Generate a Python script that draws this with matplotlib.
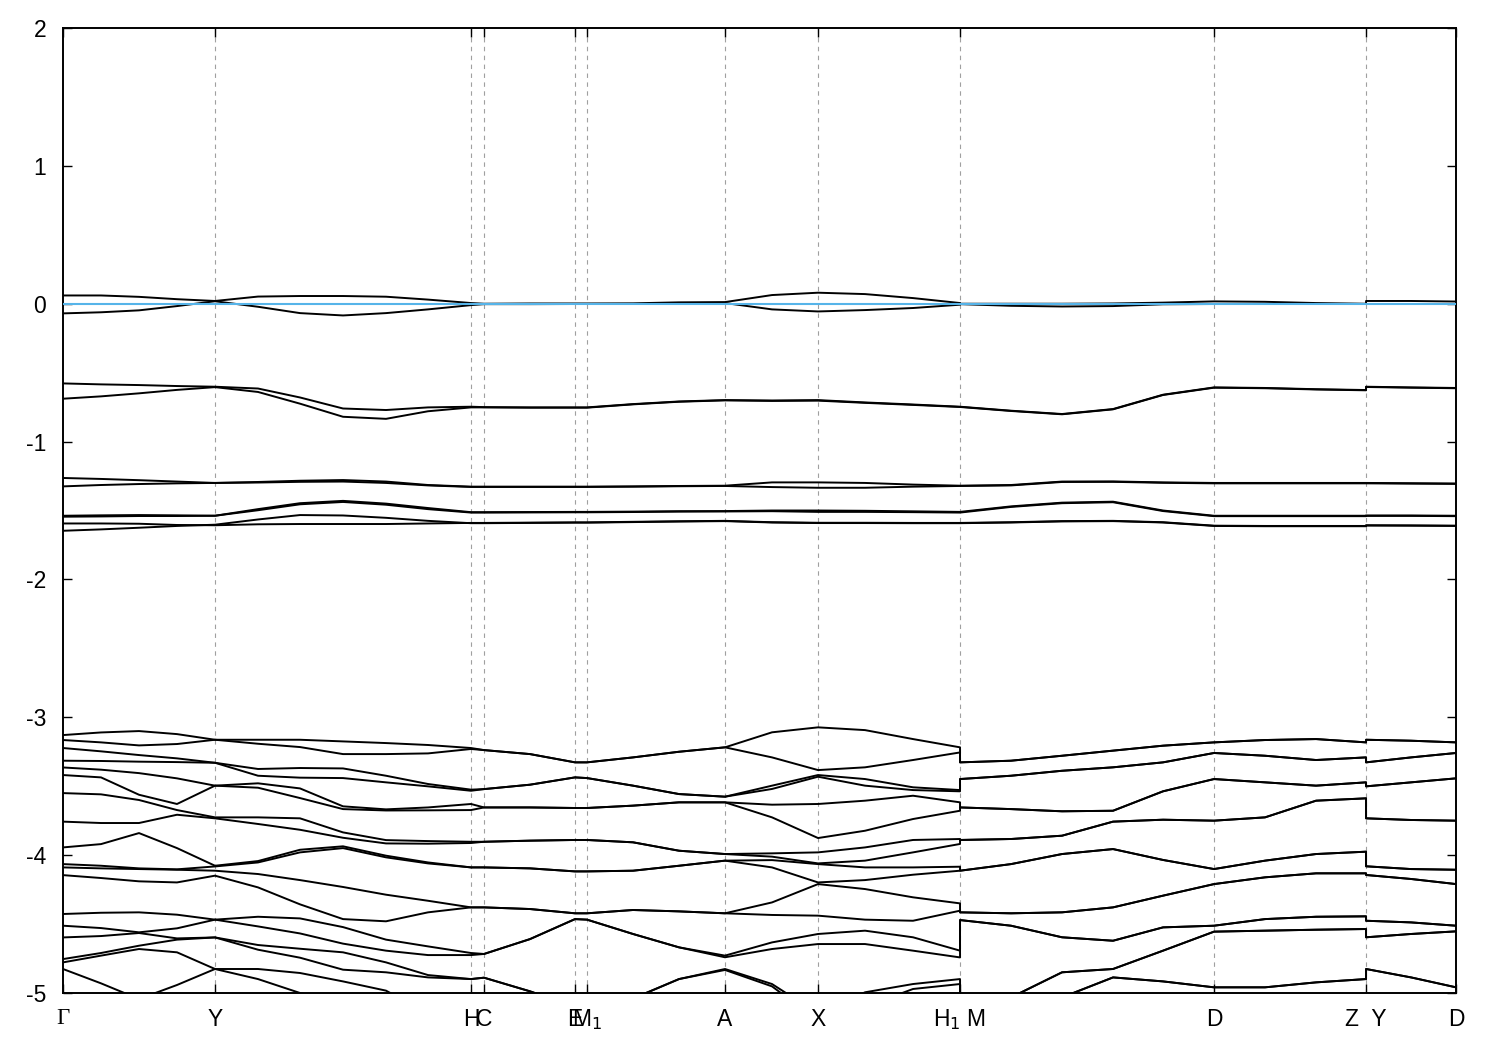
import numpy as np
import matplotlib
matplotlib.use("Agg")
import matplotlib.pyplot as plt

# k-path distance of every sampled point (H1 and M share a position, so do Z and Y)
kdist = [0.000, 0.038, 0.076, 0.114, 0.152, 0.195, 0.237, 0.280, 0.323, 0.365,
         0.408, 0.421, 0.467, 0.512, 0.524, 0.570, 0.616, 0.662, 0.709, 0.755,
         0.802, 0.850, 0.897, 0.897, 0.948, 0.999, 1.050, 1.100, 1.151, 1.202,
         1.253, 1.303, 1.303, 1.348, 1.393]

sym_pos = [0.000, 0.152, 0.408, 0.421, 0.512, 0.524, 0.662, 0.755, 0.897, 1.151, 1.303, 1.393]
sym_labels = ['Γ', 'Y', 'H', 'C', 'E', r'M$_1$', 'A', 'X', r'H$_1$ M', 'D', 'Z  Y', 'D']

# bands around the Fermi level
top1 = [0.060, 0.060, 0.050, 0.033, 0.020, 0.052, 0.056, 0.056, 0.051, 0.030, 0.005, 0.000,
        0.002, 0.002, 0.002, 0.003, 0.010, 0.012, 0.063, 0.080, 0.070, 0.041, 0.005, 0.000,
        0.000, 0.000, 0.002, 0.008, 0.017, 0.014, 0.005, 0.000, 0.020, 0.020, 0.016]
top2 = [-0.070, -0.062, -0.048, -0.017, 0.018, -0.022, -0.068, -0.085, -0.068, -0.041, -0.010, -0.003,
        -0.003, -0.002, -0.002, -0.002, 0.000, 0.005, -0.041, -0.056, -0.046, -0.031, -0.007, -0.003,
        -0.015, -0.020, -0.017, -0.004, -0.002, -0.002, -0.002, -0.002, -0.002, -0.002, -0.002]

# pair near -0.7 eV
mid1 = [-0.578, -0.585, -0.590, -0.597, -0.602, -0.615, -0.680, -0.760, -0.771, -0.752, -0.747, -0.750,
        -0.752, -0.752, -0.752, -0.728, -0.709, -0.699, -0.702, -0.699, -0.716, -0.731, -0.747, -0.747,
        -0.776, -0.800, -0.764, -0.660, -0.607, -0.611, -0.620, -0.626, -0.602, -0.607, -0.611]
mid2 = [-0.689, -0.672, -0.650, -0.625, -0.605, -0.640, -0.725, -0.820, -0.835, -0.780, -0.752, -0.752,
        -0.754, -0.754, -0.754, -0.730, -0.711, -0.701, -0.705, -0.703, -0.719, -0.734, -0.749, -0.749,
        -0.778, -0.802, -0.766, -0.662, -0.609, -0.613, -0.622, -0.628, -0.604, -0.609, -0.613]

# pair near -1.3 eV
low1 = [-1.264, -1.271, -1.280, -1.290, -1.300, -1.293, -1.284, -1.279, -1.290, -1.315, -1.327, -1.327,
        -1.327, -1.327, -1.327, -1.325, -1.322, -1.320, -1.296, -1.296, -1.300, -1.312, -1.320, -1.320,
        -1.315, -1.290, -1.289, -1.296, -1.300, -1.300, -1.300, -1.300, -1.300, -1.302, -1.304]
low2 = [-1.325, -1.315, -1.308, -1.303, -1.300, -1.297, -1.292, -1.290, -1.300, -1.318, -1.329, -1.329,
        -1.329, -1.329, -1.329, -1.327, -1.324, -1.322, -1.330, -1.335, -1.335, -1.327, -1.322, -1.322,
        -1.318, -1.293, -1.292, -1.299, -1.303, -1.303, -1.303, -1.303, -1.303, -1.305, -1.307]

# group near -1.55 eV
grp1 = [-1.538, -1.535, -1.533, -1.535, -1.538, -1.490, -1.447, -1.430, -1.450, -1.482, -1.512, -1.512,
        -1.511, -1.510, -1.510, -1.508, -1.505, -1.504, -1.500, -1.500, -1.502, -1.506, -1.510, -1.510,
        -1.470, -1.443, -1.436, -1.500, -1.538, -1.538, -1.538, -1.538, -1.536, -1.536, -1.538]
grp2 = [-1.545, -1.543, -1.540, -1.540, -1.538, -1.498, -1.455, -1.438, -1.458, -1.490, -1.515, -1.515,
        -1.514, -1.513, -1.513, -1.511, -1.508, -1.507, -1.505, -1.510, -1.510, -1.512, -1.515, -1.515,
        -1.474, -1.447, -1.440, -1.504, -1.541, -1.541, -1.541, -1.541, -1.539, -1.539, -1.541]
grp3 = [-1.594, -1.594, -1.596, -1.605, -1.607, -1.600, -1.598, -1.598, -1.598, -1.594, -1.590, -1.590,
        -1.588, -1.586, -1.586, -1.582, -1.578, -1.575, -1.585, -1.589, -1.589, -1.590, -1.590, -1.590,
        -1.585, -1.577, -1.575, -1.585, -1.610, -1.612, -1.612, -1.612, -1.607, -1.608, -1.610]
grp4 = [-1.647, -1.637, -1.625, -1.612, -1.603, -1.565, -1.533, -1.536, -1.553, -1.575, -1.592, -1.592,
        -1.590, -1.588, -1.588, -1.584, -1.580, -1.577, -1.587, -1.591, -1.591, -1.592, -1.592, -1.592,
        -1.587, -1.579, -1.577, -1.587, -1.612, -1.614, -1.614, -1.614, -1.609, -1.610, -1.612]

# deep manifold, Gamma -> H1: energies at each k-point, top to bottom
deep_left = [
    [-3.129, -3.165, -3.223, -3.315, -3.364, -3.419, -3.550, -3.757, -3.944, -4.065, -4.089, -4.145, -4.427, -4.512, -4.597, -4.754, -4.778, -4.826],
    [-3.110, -3.182, -3.247, -3.317, -3.380, -3.436, -3.559, -3.767, -3.920, -4.077, -4.096, -4.166, -4.418, -4.529, -4.587, -4.710, -4.729, -4.930],
    [-3.100, -3.204, -3.274, -3.322, -3.405, -3.562, -3.600, -3.767, -3.840, -4.096, -4.101, -4.190, -4.415, -4.560, -4.565, -4.657, -4.681, -5.044],
    [-3.122, -3.194, -3.298, -3.325, -3.443, -3.629, -3.673, -3.707, -3.949, -4.103, -4.106, -4.198, -4.432, -4.531, -4.604, -4.613, -4.705, -4.942],
    [-3.163, -3.163, -3.330, -3.330, -3.496, -3.496, -3.726, -3.733, -4.077, -4.082, -4.113, -4.149, -4.468, -4.468, -4.597, -4.597, -4.826, -4.826],
    [-3.163, -3.192, -3.375, -3.424, -3.479, -3.511, -3.726, -3.774, -4.043, -4.053, -4.137, -4.234, -4.447, -4.517, -4.652, -4.686, -4.826, -4.899],
    [-3.163, -3.216, -3.368, -3.438, -3.516, -3.586, -3.733, -3.816, -3.961, -3.980, -4.181, -4.357, -4.459, -4.568, -4.679, -4.744, -4.855, -5.000],
    [-3.175, -3.267, -3.371, -3.441, -3.646, -3.666, -3.835, -3.874, -3.936, -3.949, -4.231, -4.464, -4.522, -4.642, -4.705, -4.831, -4.916, -5.068],
    [-3.187, -3.267, -3.424, -3.472, -3.668, -3.676, -3.891, -3.915, -4.004, -4.016, -4.287, -4.480, -4.613, -4.693, -4.778, -4.850, -4.983, -5.100],
    [-3.201, -3.262, -3.484, -3.501, -3.654, -3.675, -3.898, -3.917, -4.053, -4.060, -4.331, -4.415, -4.662, -4.725, -4.870, -4.887, -5.150, -5.200],
    [-3.223, -3.230, -3.525, -3.533, -3.629, -3.673, -3.903, -3.912, -4.089, -4.089, -4.379, -4.379, -4.710, -4.725, -4.899, -4.899, -5.200, -5.250],
    [-3.238, -3.238, -3.521, -3.521, -3.654, -3.654, -3.903, -3.903, -4.089, -4.089, -4.379, -4.379, -4.717, -4.717, -4.889, -4.889, -5.200, -5.250],
    [-3.267, -3.267, -3.489, -3.489, -3.654, -3.654, -3.895, -3.895, -4.096, -4.096, -4.391, -4.391, -4.609, -4.609, -4.988, -4.988, -5.250, -5.300],
    [-3.327, -3.327, -3.436, -3.436, -3.658, -3.658, -3.890, -3.890, -4.118, -4.118, -4.422, -4.422, -4.464, -4.464, -5.100, -5.100, -5.300, -5.350],
    [-3.327, -3.327, -3.441, -3.441, -3.658, -3.658, -3.890, -3.890, -4.118, -4.118, -4.422, -4.422, -4.468, -4.468, -5.120, -5.120, -5.300, -5.350],
    [-3.291, -3.291, -3.496, -3.496, -3.641, -3.641, -3.907, -3.907, -4.113, -4.113, -4.398, -4.398, -4.572, -4.572, -5.040, -5.040, -5.250, -5.300],
    [-3.250, -3.250, -3.557, -3.557, -3.617, -3.617, -3.968, -3.968, -4.077, -4.077, -4.408, -4.408, -4.669, -4.669, -4.899, -4.899, -5.200, -5.250],
    [-3.218, -3.218, -3.576, -3.576, -3.617, -3.617, -3.992, -3.992, -4.040, -4.040, -4.422, -4.422, -4.729, -4.741, -4.826, -4.833, -5.150, -5.200],
    [-3.109, -3.291, -3.496, -3.520, -3.634, -3.726, -3.987, -4.011, -4.036, -4.089, -4.343, -4.434, -4.633, -4.681, -4.935, -4.952, -5.200, -5.250],
    [-3.073, -3.383, -3.419, -3.431, -3.629, -3.876, -3.980, -4.060, -4.065, -4.198, -4.210, -4.439, -4.572, -4.645, -5.150, -5.200, -5.250, -5.300],
    [-3.093, -3.363, -3.448, -3.496, -3.605, -3.823, -3.944, -4.040, -4.089, -4.181, -4.246, -4.468, -4.548, -4.645, -4.995, -5.100, -5.200, -5.250],
    [-3.158, -3.310, -3.508, -3.528, -3.569, -3.738, -3.890, -3.980, -4.089, -4.142, -4.306, -4.476, -4.596, -4.693, -4.935, -4.971, -5.100, -5.150],
    [-3.218, -3.255, -3.528, -3.537, -3.617, -3.678, -3.883, -3.919, -4.084, -4.113, -4.350, -4.403, -4.693, -4.742, -4.899, -4.935, -5.100, -5.150],
]

# deep manifold, M -> D -> Z | Y -> D: doubly degenerate pairs
deep_r1 = [-3.327, -3.315, -3.279, -3.242, -3.206, -3.182, -3.165, -3.158, -3.182, -3.163, -3.170, -3.182]
deep_r2 = [-3.448, -3.424, -3.388, -3.363, -3.327, -3.259, -3.279, -3.310, -3.291, -3.327, -3.291, -3.259]
deep_r3 = [-3.654, -3.666, -3.682, -3.678, -3.537, -3.448, -3.472, -3.496, -3.472, -3.501, -3.472, -3.443]
deep_r4 = [-3.890, -3.883, -3.859, -3.757, -3.743, -3.750, -3.726, -3.605, -3.588, -3.733, -3.745, -3.750]
deep_r5 = [-4.113, -4.065, -3.992, -3.956, -4.035, -4.101, -4.040, -3.992, -3.975, -4.081, -4.101, -4.106]
deep_r6 = [-4.415, -4.422, -4.415, -4.379, -4.294, -4.210, -4.161, -4.132, -4.132, -4.144, -4.173, -4.210]
deep_r7 = [-4.471, -4.512, -4.596, -4.621, -4.524, -4.512, -4.464, -4.447, -4.444, -4.476, -4.488, -4.512]
deep_r8 = [-5.150, -5.032, -4.850, -4.826, -4.693, -4.555, -4.548, -4.541, -4.536, -4.596, -4.572, -4.553]
deep_r9 = [-5.400, -5.300, -5.032, -4.887, -4.916, -4.959, -4.959, -4.923, -4.899, -4.826, -4.887, -4.959]

deep_right = [deep_r1, deep_r2, deep_r3, deep_r4, deep_r5, deep_r6, deep_r7, deep_r8, deep_r9]
left_part = np.array(deep_left).T
right_part = np.repeat(np.array(deep_right), 2, axis=0)
deep_bands = np.concatenate([left_part, right_part], axis=1)

bands = [top1, top2, mid1, mid2, low1, low2, grp1, grp2, grp3, grp4] + list(deep_bands)

plt.rcParams['font.family'] = ['Liberation Sans', 'DejaVu Sans']

fig = plt.figure(figsize=(15, 10.5), dpi=100)
ax = fig.add_axes([0.042, 0.0543, 0.9287, 0.919])

for x in sym_pos[1:-1]:
    ax.axvline(x, color='#a0a0a0', lw=0.8, ls=(0, (4, 4)), zorder=0)

for band in bands:
    ax.plot(kdist, band, color='black', lw=1.4, zorder=2)

ax.axhline(0, color='#56b4e9', lw=1.5, zorder=5)

ax.set_xlim(0, sym_pos[-1])
ax.set_ylim(-5, 2)
ax.set_yticks(range(-5, 3))
ax.set_yticklabels([str(v) for v in range(-5, 3)])
ax.set_xticks(sym_pos)
ax.set_xticklabels(sym_labels)
ax.tick_params(axis='both', direction='in', length=6.5, width=1.0, labelsize=16.5,
               top=True, right=True)
ax.tick_params(axis='x', pad=10.5)
ax.tick_params(axis='y', pad=12)
ax.get_xticklabels()[0].set_fontfamily('Liberation Serif')

for sp in ax.spines.values():
    sp.set_linewidth(1.4)

fig.savefig('out.png', dpi=100)
